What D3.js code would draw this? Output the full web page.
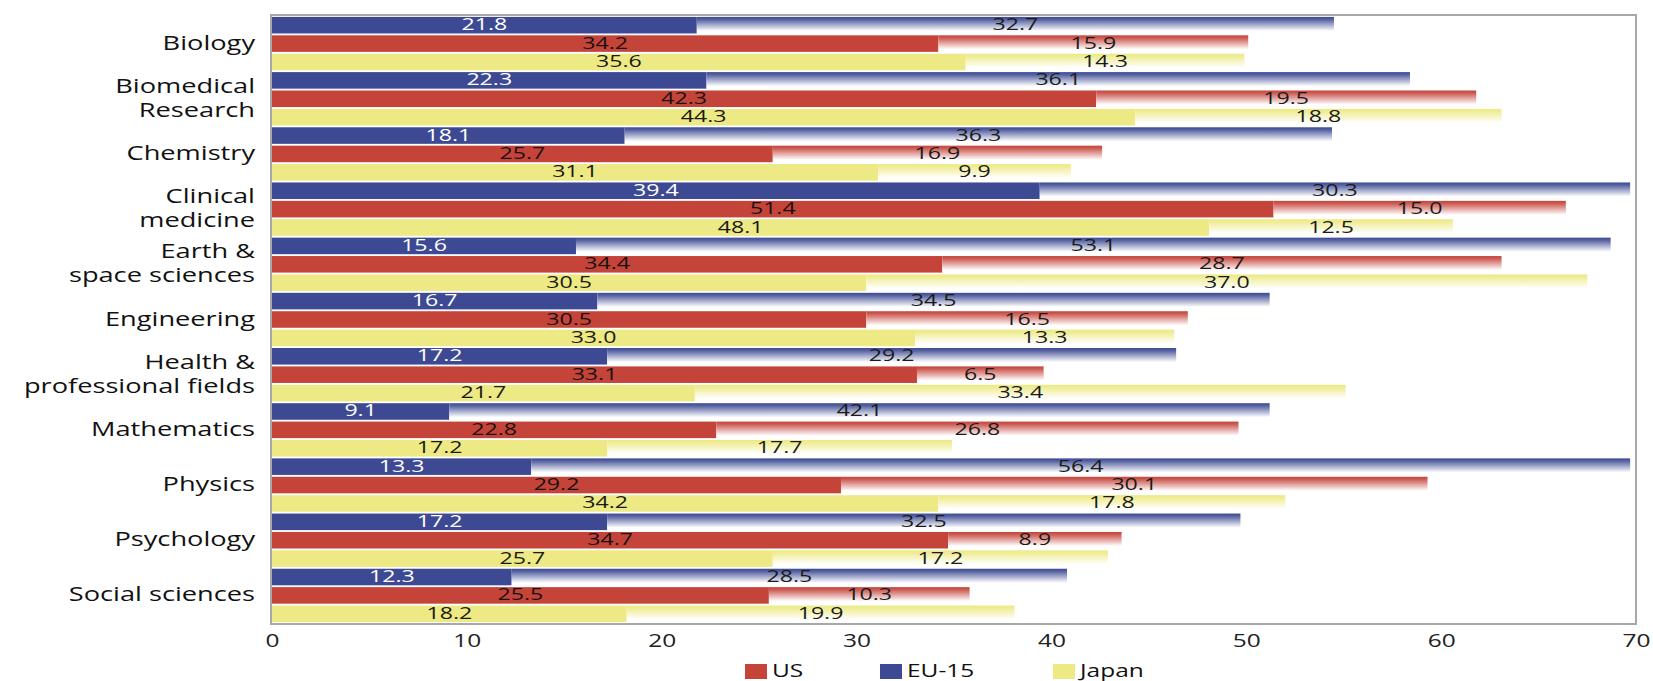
<!DOCTYPE html>
<html>
<head>
<meta charset="utf-8">
<script src="https://cdn.jsdelivr.net/npm/d3@7"></script>
<style>
html,body{margin:0;padding:0;background:#fff;}
svg{display:block;}
text{font-family:"Open Sans","DejaVu Sans",sans-serif;}
</style>
</head>
<body>
<svg id="chart" width="1653" height="681"></svg>
<script>
const categories = [
  "Biology", "Biomedical\nResearch", "Chemistry", "Clinical\nmedicine",
  "Earth &\nspace sciences", "Engineering", "Health &\nprofessional fields",
  "Mathematics", "Physics", "Psychology", "Social sciences"
];
const seriesNames = ["EU-15", "US", "Japan"];
const legendOrder = ["US", "EU-15", "Japan"];
const eu1 = [21.8, 22.3, 18.1, 39.4, 15.6, 16.7, 17.2, 9.1, 13.3, 17.2, 12.3];
const eu2 = [32.7, 36.1, 36.3, 30.3, 53.1, 34.5, 29.2, 42.1, 56.4, 32.5, 28.5];
const us1 = [34.2, 42.3, 25.7, 51.4, 34.4, 30.5, 33.1, 22.8, 29.2, 34.7, 25.5];
const us2 = [15.9, 19.5, 16.9, 15.0, 28.7, 16.5, 6.5, 26.8, 30.1, 8.9, 10.3];
const jp1 = [35.6, 44.3, 31.1, 48.1, 30.5, 33.0, 21.7, 17.2, 34.2, 25.7, 18.2];
const jp2 = [14.3, 18.8, 9.9, 12.5, 37.0, 13.3, 33.4, 17.7, 17.8, 17.2, 19.9];
const xTicks = [0, 10, 20, 30, 40, 50, 60, 70];

(function () {
const firstVals = {"EU-15": eu1, "US": us1, "Japan": jp1};
const secondVals = {"EU-15": eu2, "US": us2, "Japan": jp2};
const colors = {"EU-15": "#3d4a93", "US": "#c5443a", "Japan": "#ede984"};
const firstLabelColor = {"EU-15": "#ffffff", "US": "#1a1010", "Japan": "#1a1a10"};
const SX = 1.36;

const svg = d3.select("#chart");
const defs = svg.append("defs");
seriesNames.forEach((s, i) => {
  const g = defs.append("linearGradient").attr("id", "grad" + i)
    .attr("x1", 0).attr("y1", 0).attr("x2", 0).attr("y2", 1);
  g.append("stop").attr("offset", "0%").attr("stop-color", colors[s]);
  g.append("stop").attr("offset", "15%").attr("stop-color", d3.interpolateRgb(colors[s], "#fff")(0.12));
  g.append("stop").attr("offset", "85%").attr("stop-color", "#ffffff");
  g.append("stop").attr("offset", "100%").attr("stop-color", "#ffffff");
});

const pLeft = 272, pRight = 1636, pTop = 16, pBottom = 623;
const x = d3.scaleLinear().domain([0, 70]).range([pLeft, pRight]);
const y = d3.scaleBand().domain(categories).range([pTop, pBottom]).padding(0);
const ys = d3.scaleBand().domain(seriesNames).range([0, y.bandwidth()]).paddingInner(0.1).paddingOuter(0.05);

function stretchText(parent, tx, ty, str, anchor, size, fill) {
  return parent.append("text")
    .attr("transform", `translate(${tx},${ty}) scale(${SX},1)`)
    .attr("text-anchor", anchor)
    .attr("font-size", size)
    .attr("fill", fill)
    .text(str);
}

const plot = svg.append("g");
categories.forEach((c, ci) => {
  seriesNames.forEach((s, si) => {
    const v1 = firstVals[s][ci], v2 = secondVals[s][ci];
    const by = y(c) + ys(s), bh = ys.bandwidth();
    plot.append("rect").attr("x", x(0)).attr("y", by)
      .attr("width", x(v1) - x(0)).attr("height", bh).attr("fill", colors[s]);
    plot.append("rect").attr("x", x(v1)).attr("y", by)
      .attr("width", x(Math.min(v1 + v2, 70)) - x(v1)).attr("height", bh)
      .attr("fill", `url(#grad${si})`);
    const ty = by + bh / 2 + 5;
    stretchText(plot, (x(0) + x(v1)) / 2, ty, v1.toFixed(1), "middle", 17, firstLabelColor[s]);
    stretchText(plot, (x(v1) + x(v1 + v2)) / 2, ty, v2.toFixed(1), "middle", 17, "#1a1a1a");
  });
});

// plot frame
svg.append("rect").attr("x", pLeft - 1).attr("y", pTop - 1)
  .attr("width", pRight - pLeft + 1).attr("height", pBottom - pTop + 2)
  .attr("fill", "none").attr("stroke", "#a8a8a8").attr("stroke-width", 2);

// category labels
const catG = svg.append("g");
categories.forEach(c => {
  const lines = c.split("\n");
  const cy = y(c) + y.bandwidth() / 2;
  const lh = 24;
  lines.forEach((ln, li) => {
    const by = cy + 6 + (li - (lines.length - 1) / 2) * lh;
    stretchText(catG, 255, by, ln, "end", 20, "#111");
  });
});

// x axis
const xAxis = d3.axisBottom(x).tickValues(xTicks).tickSize(0).tickPadding(10).tickFormat(d3.format("d"));
const ax = svg.append("g").attr("transform", `translate(0,${pBottom + 1})`).call(xAxis);
ax.select(".domain").remove();
ax.selectAll("text").attr("font-size", 18).attr("fill", "#222")
  .attr("font-family", '"Open Sans", sans-serif')
  .attr("transform", `scale(${SX},1)`);

// legend
const legX = {"US": 745, "EU-15": 880, "Japan": 1053};
const leg = svg.append("g");
legendOrder.forEach(s => {
  leg.append("rect").attr("x", legX[s]).attr("y", 664).attr("width", 22).attr("height", 15).attr("fill", colors[s]);
  stretchText(leg, legX[s] + 27, 677, s, "start", 18, "#111");
});
})();
</script>
</body>
</html>
